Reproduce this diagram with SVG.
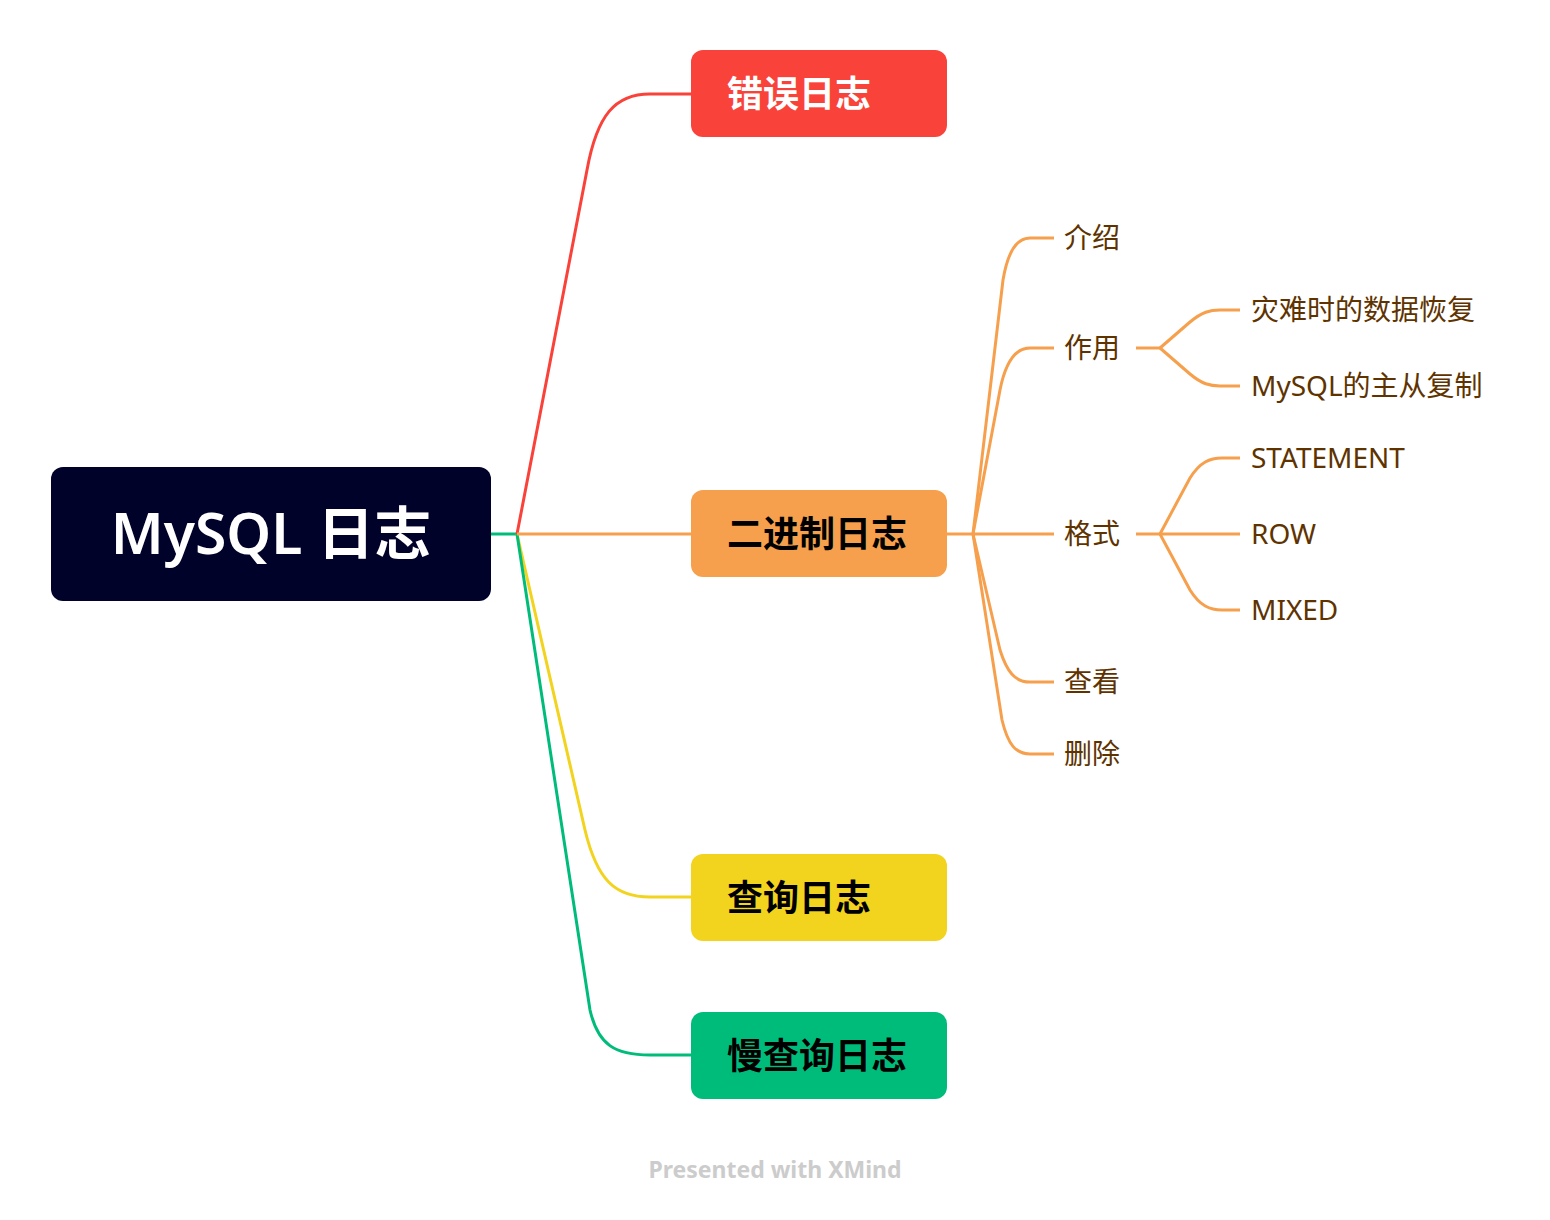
<svg xmlns="http://www.w3.org/2000/svg" width="1550" height="1220" viewBox="0 0 1550 1220">
<style>
.c{fill:none;stroke-width:3;stroke-linejoin:round;stroke-linecap:butt}
.or{stroke:#F6A04D}
.main{font-family:"Noto Sans","Noto Sans CJK SC",sans-serif;font-size:36px;font-weight:700}
.sub{font-family:"Noto Sans","Noto Sans CJK SC",sans-serif;font-size:28px;fill:#5E3300}
</style>
<rect width="1550" height="1220" fill="#ffffff"/>
<g id="connectors">
<path class="c" stroke="#00BC7B" d="M491 534 L517 534"/>
<path class="c" stroke="#F9423A" d="M517 534 L587 170 C597 115 615 94 650 94 L691 94"/>
<path class="c" stroke="#F2D31E" d="M517 534 L585 830 C597 880 615 897 650 897 L691 897"/>
<path class="c" stroke="#00BC7B" d="M517 534 L590 1010 C598 1045 615 1055 650 1055 L691 1055"/>
<path class="c or" d="M517 534 L691 534"/>
<path class="c or" d="M947 534 L973 534"/>
<path class="c or" d="M973 534 L1003 280 C1008 250 1018 238 1030 238 L1054 238"/>
<path class="c or" d="M973 534 L1000 390 C1006 360 1016 348 1030 348 L1054 348"/>
<path class="c or" d="M973 534 L1054 534"/>
<path class="c or" d="M973 534 L1000 650 C1007 672 1015 682 1030 682 L1054 682"/>
<path class="c or" d="M973 534 L1002 720 C1008 745 1016 754 1030 754 L1054 754"/>
<path class="c or" d="M1136 348 L1160 348"/>
<path class="c or" d="M1160 348 L1190 322 C1202 312 1210 310 1220 310 L1240 310"/>
<path class="c or" d="M1160 348 L1190 374 C1202 384 1210 386 1220 386 L1240 386"/>
<path class="c or" d="M1136 534 L1240 534"/>
<path class="c or" d="M1160 534 L1190 478 C1200 462 1210 458 1222 458 L1240 458"/>
<path class="c or" d="M1160 534 L1190 590 C1200 606 1210 610 1222 610 L1240 610"/>
</g>
<g id="root">
<rect x="51" y="467" width="440" height="134" rx="12" fill="#000229"/>
<text x="271" y="554" text-anchor="middle" font-family="Noto Sans,Noto Sans CJK SC,sans-serif" font-size="57" font-weight="600" fill="#ffffff">MySQL 日志</text>
</g>
<g id="error-log">
<rect x="691" y="50" width="256" height="87" rx="12" fill="#F9423A"/>
<text class="main" x="727" y="107" fill="#ffffff">错误日志</text>
</g>
<g id="binlog">
<rect x="691" y="490" width="256" height="87" rx="12" fill="#F6A04D"/>
<text class="main" x="727" y="547" fill="#000000">二进制日志</text>
</g>
<g id="query-log">
<rect x="691" y="854" width="256" height="87" rx="12" fill="#F2D31E"/>
<text class="main" x="727" y="911" fill="#000000">查询日志</text>
</g>
<g id="slow-log">
<rect x="691" y="1012" width="256" height="87" rx="12" fill="#00BC7B"/>
<text class="main" x="727" y="1069" fill="#000000">慢查询日志</text>
</g>
<g id="intro"><text class="sub" x="1064" y="248">介绍</text></g>
<g id="usage"><text class="sub" x="1064" y="358">作用</text></g>
<g id="usage-1"><text class="sub" x="1251" y="320">灾难时的数据恢复</text></g>
<g id="usage-2"><text class="sub" x="1251" y="396">MySQL的主从复制</text></g>
<g id="format"><text class="sub" x="1064" y="544">格式</text></g>
<g id="statement"><text class="sub" x="1251" y="468">STATEMENT</text></g>
<g id="row"><text class="sub" x="1251" y="544">ROW</text></g>
<g id="mixed"><text class="sub" x="1251" y="620">MIXED</text></g>
<g id="view"><text class="sub" x="1064" y="692">查看</text></g>
<g id="delete"><text class="sub" x="1064" y="764">删除</text></g>
<text x="775" y="1178" text-anchor="middle" font-family="Noto Sans,sans-serif" font-size="23" font-weight="700" fill="#CCCCCC">Presented with XMind</text>
</svg>
